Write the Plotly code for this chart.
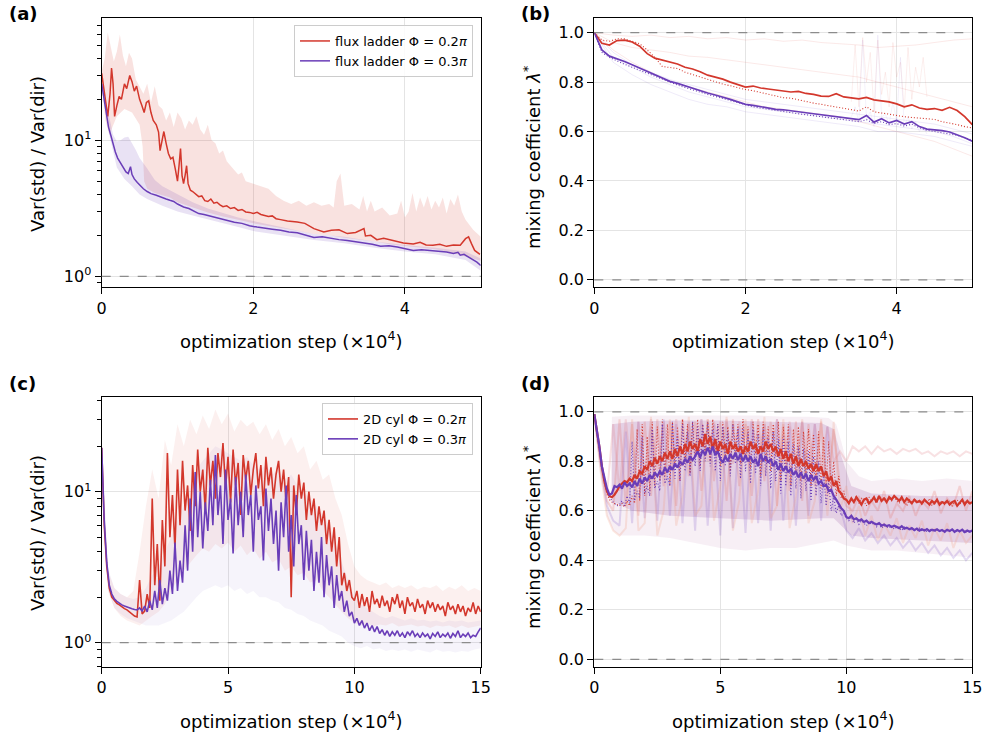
import numpy as np
import plotly.graph_objects as go

RED = '#d3372c'
PURPLE = '#6a3db8'
RED_BAND = 'rgba(214,60,50,0.15)'
PUR_BAND = 'rgba(107,63,184,0.15)'
FONT = 'DejaVu Sans'

# ---------------- panel (a): flux ladder, Var(std)/Var(dir) ----------------
a_red_x = [0.00,0.04,0.08,0.11,0.13,0.15,0.17,0.20,0.23,0.26,0.30,0.33,0.37,0.40,0.43,0.46,0.50,0.53,0.56,0.59,
           0.62,0.65,0.68,0.72,0.75,0.77,0.80,0.82,0.85,0.88,0.91,0.94,0.97,1.00,1.02,1.04,1.06,1.08,1.10,1.12,
           1.14,1.17,1.20,1.24,1.28,1.32,1.36,1.40,1.44,1.48,1.52,1.56,1.60,1.65,1.70,1.75,1.80,1.85,1.90,1.95,
           2.00,2.05,2.10,2.15,2.20,2.25,2.30,2.36,2.45,2.58,2.68,2.80,2.93,3.03,3.13,3.24,3.35,3.46,3.48,3.55,
           3.63,3.72,3.80,3.90,3.98,4.11,4.20,4.28,4.37,4.46,4.55,4.64,4.73,4.80,4.84,4.88,4.92,4.99]
a_red_y = [31,22,15,22,34,26,15,18,21,20,26,24,30,27,23,25,20,18,16,19,
           19.5,16,14,13,11.5,8.4,10,11.6,9.5,8.0,7.3,7.5,6.2,5.0,6.5,8.7,5.5,4.8,5.5,6.5,
           4.8,4.3,4.2,4.0,3.85,3.9,3.6,3.55,3.7,3.45,3.5,3.35,3.25,3.3,3.15,3.2,3.05,3.1,2.97,2.95,
           2.9,2.95,2.85,2.8,2.75,2.78,2.65,2.61,2.55,2.51,2.45,2.24,2.12,2.18,2.2,2.06,2.1,2.24,1.98,2.0,
           1.86,1.9,1.85,1.8,1.76,1.73,1.78,1.7,1.69,1.72,1.66,1.7,1.69,1.89,1.95,1.73,1.55,1.45]
a_pur_x = [0.00,0.03,0.06,0.09,0.12,0.15,0.18,0.21,0.24,0.28,0.32,0.35,0.38,0.40,0.43,0.47,0.51,0.55,0.60,
           0.65,0.72,0.78,0.85,0.90,0.95,1.00,1.08,1.15,1.22,1.28,1.35,1.45,1.55,1.65,1.75,1.85,1.95,2.05,2.15,
           2.25,2.36,2.47,2.58,2.69,2.80,2.91,3.02,3.13,3.24,3.35,3.46,3.57,3.68,3.79,3.90,4.00,4.11,4.22,4.33,
           4.44,4.55,4.64,4.70,4.73,4.78,4.86,4.95,5.00]
a_pur_y = [26,20,15,12.5,10.9,9.2,8.2,7.4,6.9,6.3,5.85,5.7,6.4,5.6,5.2,4.9,4.6,4.4,4.2,
           4.05,3.94,3.85,3.7,3.62,3.55,3.4,3.23,3.15,3.0,2.89,2.85,2.75,2.65,2.58,2.5,2.45,2.35,2.3,2.25,
           2.22,2.18,2.12,2.09,2.02,1.93,1.95,1.9,1.86,1.83,1.8,1.76,1.72,1.66,1.68,1.64,1.6,1.55,1.57,1.54,
           1.53,1.51,1.47,1.5,1.43,1.45,1.37,1.27,1.2]
a_red_up_x = [0.00,0.04,0.08,0.12,0.16,0.20,0.24,0.28,0.32,0.36,0.40,0.45,0.50,0.55,0.60,0.65,0.70,0.75,0.80,0.85,
              0.90,0.95,1.00,1.05,1.10,1.15,1.20,1.25,1.30,1.35,1.40,1.45,1.50,1.55,1.60,1.65,1.70,1.75,1.80,1.85,
              1.90,2.00,2.10,2.20,2.30,2.40,2.50,2.60,2.70,2.80,2.90,3.00,3.06,3.10,3.15,3.20,3.30,3.40,3.45,3.50,
              3.55,3.60,3.70,3.80,3.90,3.95,4.00,4.05,4.10,4.15,4.20,4.25,4.30,4.35,4.40,4.45,4.50,4.55,4.60,4.65,
              4.70,4.75,4.80,4.90,5.00]
a_red_up_y = [32,40,62,48,38,45,60,42,35,44,40,28,25,22,26,19,25,18,17,14,
              16,12.5,16,14.5,12,14,13,15,12,11,13,10,9.5,8,8.4,7,6.5,6,5.6,5.8,
              5.0,4.8,4.6,4.4,3.9,3.6,3.4,3.6,3.3,3.5,3.3,3.4,3.2,5.0,5.7,3.3,3.4,3.1,3.9,3.0,
              3.6,3.0,3.2,2.8,2.9,3.6,2.7,3.0,4.1,3.0,3.8,3.2,3.9,3.1,3.6,3.2,3.8,2.9,3.7,3.3,
              4.0,3.0,2.6,2.2,1.95]
a_red_lo_x = [0.00,0.05,0.10,0.15,0.20,0.30,0.40,0.50,0.54,0.56,0.60,0.70,0.80,0.90,1.00,1.20,1.40,1.60,1.80,2.00,
              2.20,2.40,2.60,2.80,3.00,3.20,3.40,3.60,3.80,4.00,4.20,4.40,4.60,4.80,5.00]
a_red_lo_y = [26,14,11,13,15,17,16,13,9,5.0,4.4,4.1,3.95,3.8,3.5,3.2,2.95,2.75,2.6,2.45,
              2.35,2.25,2.15,2.05,2.0,1.92,1.85,1.8,1.72,1.68,1.62,1.58,1.5,1.4,1.3]
a_pur_up_x = [0.00,0.05,0.10,0.15,0.20,0.25,0.30,0.35,0.40,0.45,0.50,0.55,0.60,0.70,0.80,0.90,1.00,1.20,1.40,1.60,
              1.80,2.00,2.40,2.80,3.20,3.60,4.00,4.40,4.80,5.00]
a_pur_up_y = [27,20,14,11,9.8,10.0,10.5,10.6,9.5,8.5,7.4,6.8,6.2,5.1,4.6,4.3,4.0,3.5,3.15,2.9,
              2.7,2.55,2.3,2.05,1.95,1.8,1.7,1.62,1.52,1.35]
a_pur_lo_x = [0.00,0.05,0.10,0.15,0.20,0.30,0.40,0.50,0.60,0.80,1.00,1.20,1.40,1.60,1.80,2.00,2.40,2.80,3.20,3.60,
              4.00,4.40,4.80,5.00]
a_pur_lo_y = [24,16,11,8.3,6.3,5.2,4.6,4.0,3.7,3.3,3.0,2.8,2.6,2.45,2.3,2.15,2.0,1.85,1.75,1.62,
              1.52,1.45,1.32,1.1]

# ---------------- panel (b): flux ladder, mixing coefficient ----------------
b_red = [1.0,0.957,0.95,0.968,0.97,0.962,0.945,0.915,0.897,0.89,
         0.883,0.873,0.86,0.853,0.842,0.828,0.82,0.812,0.80,0.79,
         0.78,0.784,0.776,0.772,0.768,0.762,0.76,0.762,0.754,0.75,
         0.743,0.742,0.753,0.74,0.735,0.732,0.738,0.728,0.724,0.72,
         0.712,0.70,0.708,0.695,0.69,0.693,0.686,0.698,0.685,0.66,0.628]
b_pur = [1.0,0.93,0.905,0.895,0.883,0.87,0.857,0.843,0.83,0.815,
         0.803,0.795,0.785,0.773,0.765,0.756,0.748,0.74,0.73,0.72,
         0.71,0.706,0.70,0.697,0.69,0.688,0.685,0.68,0.676,0.672,
         0.668,0.665,0.66,0.655,0.652,0.648,0.665,0.638,0.652,0.635,
         0.645,0.63,0.64,0.62,0.61,0.608,0.604,0.598,0.588,0.575,0.561]
b_red_dot = [1.0,0.97,0.965,0.975,0.975,0.965,0.955,0.93,0.90,0.863,
             0.86,0.855,0.84,0.83,0.82,0.81,0.80,0.792,0.785,0.777,
             0.77,0.765,0.758,0.75,0.745,0.737,0.735,0.728,0.72,0.715,
             0.71,0.705,0.70,0.695,0.688,0.683,0.70,0.68,0.675,0.67,
             0.663,0.66,0.657,0.655,0.65,0.649,0.64,0.635,0.628,0.62,0.615]
b_pur_dot = [1.0,0.92,0.90,0.885,0.872,0.86,0.848,0.835,0.822,0.81,
             0.798,0.788,0.778,0.768,0.758,0.75,0.742,0.733,0.724,0.715,
             0.706,0.70,0.695,0.69,0.685,0.68,0.677,0.672,0.668,0.664,
             0.66,0.656,0.652,0.648,0.645,0.64,0.648,0.632,0.64,0.628,
             0.632,0.622,0.63,0.615,0.605,0.60,0.598,0.592,0.585,0.575,0.565]
b_runs_pink = [
    [1.0,0.99,0.985,0.99,0.98,0.985,0.975,0.98,0.97,0.975,0.965,0.97,0.96,0.955,0.95,0.94,0.945,0.95,0.96,0.97,0.975],
    [1.0,0.96,0.94,0.93,0.92,0.905,0.90,0.89,0.88,0.87,0.86,0.85,0.84,0.83,0.82,0.80,0.78,0.76,0.74,0.72,0.70],
    [1.0,0.93,0.88,0.84,0.80,0.78,0.76,0.74,0.72,0.70,0.69,0.68,0.67,0.66,0.64,0.62,0.60,0.58,0.56,0.53,0.50],
]
b_runs_purple = [
    [1.0,0.90,0.86,0.82,0.79,0.76,0.74,0.72,0.70,0.69,0.68,0.67,0.66,0.65,0.64,0.63,0.62,0.61,0.60,0.58,0.55],
    [1.0,0.88,0.83,0.79,0.76,0.73,0.71,0.70,0.68,0.67,0.66,0.65,0.64,0.63,0.62,0.60,0.60,0.59,0.58,0.56,0.54],
    [1.0,0.92,0.87,0.84,0.81,0.79,0.77,0.75,0.73,0.72,0.71,0.70,0.69,0.68,0.67,0.66,0.65,0.64,0.63,0.61,0.59],
]
b_spiky_pink = [0.72,0.95,0.70,0.98,0.80,0.92,0.68,0.97,0.75,0.84,0.70,0.96,0.82,0.88,0.69,0.94,0.73,0.86,0.78,0.90,0.74]
b_spiky_purple = [0.66,0.70,0.64,0.97,0.65,0.68,0.62,0.99,0.66,0.67,0.63,0.72,0.64,0.90,0.62,0.66,0.61,0.64,0.60,0.62,0.59]

# ---------------- panel (c): 2D cylinder, Var(std)/Var(dir) ----------------
c_red = [19.5,6.0,3.2,2.3,2.0,1.9,1.82,1.78,1.72,1.68,
         1.65,1.6,1.56,1.5,1.48,2.6,1.55,1.62,2.1,1.7,
         9.0,2.4,4.5,1.9,6.5,3.2,18.0,5.0,9.5,4.2,
         14.0,6.0,16.0,7.5,11.0,5.5,15.0,8.0,19.0,10.0,
         14.0,7.5,19.5,11.0,16.0,9.0,18.0,12.5,21.0,10.5,
         17.0,8.5,19.0,11.0,15.5,7.0,17.5,12.0,16.0,9.5,
         14.0,18.0,10.5,15.0,8.0,17.0,11.0,14.5,9.0,13.0,
         16.0,10.0,14.0,8.5,12.5,2.0,11.0,7.0,13.0,9.0,
         11.5,6.5,10.0,7.0,9.0,5.5,8.0,6.0,7.5,4.5,
         6.5,4.0,5.8,3.2,5.0,2.4,2.9,2.2,2.6,2.0,
         1.9,2.2,1.7,2.1,1.75,2.0,1.6,2.2,1.8,1.95,
         1.7,2.05,1.75,1.9,1.6,2.0,1.8,2.1,1.7,1.9,
         1.55,2.0,1.75,1.85,1.6,1.95,1.7,1.8,1.55,1.9,
         1.7,1.85,1.6,1.8,1.65,1.75,1.5,1.85,1.65,1.75,
         1.55,1.8,1.6,1.75,1.5,1.7,1.6,1.85,1.55,1.75,
         1.6]
c_pur = [19.5,6.5,3.4,2.4,2.1,1.95,1.88,1.82,1.78,1.75,
         1.72,1.7,1.68,1.66,1.65,1.7,1.62,1.75,1.6,1.9,
         1.65,2.2,1.7,2.6,1.8,2.3,1.9,3.0,2.1,4.6,
         2.2,3.5,2.5,6.0,3.0,9.0,4.0,13.5,5.0,10.0,
         4.2,8.5,5.5,12.0,6.0,17.5,7.0,11.0,4.5,14.0,
         6.5,9.0,3.9,12.5,6.0,10.0,5.0,13.0,7.0,9.5,
         4.0,11.0,6.5,8.0,3.5,10.5,5.5,9.0,4.5,7.5,
         3.0,8.5,5.0,11.0,4.0,7.0,3.2,9.5,4.5,6.0,
         2.6,5.5,3.0,4.8,2.2,4.0,2.5,5.0,2.0,3.8,
         2.4,3.2,1.7,2.8,1.9,2.2,1.6,1.9,1.5,1.6,
         1.35,1.45,1.3,1.4,1.25,1.35,1.2,1.3,1.18,1.28,
         1.15,1.22,1.12,1.2,1.1,1.18,1.12,1.2,1.1,1.16,
         1.08,1.18,1.12,1.2,1.1,1.15,1.08,1.16,1.1,1.14,
         1.06,1.15,1.1,1.18,1.08,1.14,1.1,1.16,1.07,1.15,
         1.1,1.2,1.08,1.14,1.1,1.16,1.08,1.12,1.1,1.18,
         1.25]
c_red_up = [20,3.0,2.3,2.1,2.0,2.2,4.0,8.0,14,9,
            22,15,28,20,30,24,32,26,35,28,
            33,25,30,27,29,24,28,22,26,20,
            23,18,20,14,16,12,13,9,7,4.5,
            3.2,2.8,2.6,2.5,2.4,2.5,2.3,2.4,2.3,2.4,
            2.25,2.35,2.3,2.4,2.2,2.35,2.25,2.4,2.2,2.3,
            2.2]
c_red_lo = [18,2.2,1.7,1.5,1.4,1.35,1.3,1.4,1.5,1.6,
            1.8,2.2,2.6,3.0,3.4,3.8,4.2,4.0,4.5,4.2,
            4.6,4.0,4.4,3.8,4.2,3.6,4.0,3.4,3.6,3.0,
            3.2,2.8,2.9,2.5,2.6,2.2,2.0,1.8,1.6,1.45,
            1.35,1.3,1.35,1.28,1.32,1.3,1.35,1.28,1.3,1.32,
            1.28,1.3,1.25,1.3,1.28,1.3,1.25,1.3,1.25,1.28,
            1.3]
c_pur_up = [20,3.1,2.3,2.1,2.0,1.95,2.0,2.3,2.8,3.2,
            4.0,5.0,6.5,8.0,11,14,16,18,20,19,
            18,17,16,17,15,14,15,13,14,12,
            13,11,10,9,8,7,6,4.5,3.5,2.6,
            2.0,1.8,1.7,1.6,1.5,1.45,1.5,1.45,1.4,1.45,
            1.4,1.42,1.38,1.4,1.36,1.4,1.38,1.4,1.36,1.38,
            1.4]
c_pur_lo = [18,2.2,1.7,1.55,1.45,1.4,1.35,1.3,1.3,1.3,
            1.35,1.4,1.5,1.6,1.8,2.0,2.2,2.3,2.4,2.3,
            2.4,2.2,2.3,2.1,2.2,2.0,2.0,1.9,1.85,1.7,
            1.65,1.55,1.5,1.4,1.35,1.3,1.2,1.15,1.1,1.0,
            0.95,0.92,0.95,0.9,0.92,0.88,0.9,0.88,0.9,0.87,
            0.9,0.88,0.86,0.9,0.87,0.88,0.86,0.88,0.87,0.9,
            0.92]

# ---------------- panel (d): 2D cylinder, mixing coefficient ----------------
d_red = [0.99,0.93,0.86,0.78,0.72,0.68,0.66,0.655,0.665,0.68,
         0.70,0.71,0.72,0.715,0.73,0.72,0.745,0.73,0.76,0.75,
         0.78,0.765,0.80,0.78,0.815,0.79,0.82,0.80,0.835,0.81,
         0.84,0.81,0.85,0.82,0.86,0.83,0.87,0.84,0.88,0.85,
         0.87,0.84,0.89,0.86,0.91,0.87,0.90,0.85,0.89,0.84,
         0.88,0.85,0.87,0.83,0.88,0.85,0.87,0.84,0.86,0.83,
         0.86,0.84,0.88,0.85,0.87,0.83,0.86,0.84,0.88,0.85,
         0.87,0.84,0.86,0.82,0.85,0.81,0.84,0.80,0.83,0.79,
         0.82,0.78,0.81,0.78,0.80,0.77,0.79,0.76,0.79,0.76,
         0.78,0.74,0.76,0.72,0.74,0.70,0.72,0.68,0.67,0.65,
         0.645,0.63,0.65,0.635,0.655,0.64,0.625,0.645,0.65,0.63,
         0.64,0.655,0.635,0.66,0.64,0.65,0.635,0.655,0.645,0.66,
         0.65,0.64,0.655,0.635,0.65,0.64,0.63,0.645,0.635,0.64,
         0.63,0.645,0.635,0.625,0.64,0.63,0.645,0.625,0.635,0.63,
         0.64,0.625,0.635,0.64,0.62,0.635,0.645,0.625,0.64,0.63,
         0.635]
d_pur = [0.99,0.93,0.86,0.78,0.73,0.69,0.665,0.67,0.70,0.695,
         0.705,0.69,0.715,0.70,0.71,0.695,0.72,0.70,0.73,0.71,
         0.735,0.72,0.745,0.73,0.755,0.74,0.76,0.745,0.775,0.755,
         0.78,0.765,0.79,0.775,0.80,0.785,0.81,0.795,0.82,0.805,
         0.82,0.84,0.815,0.845,0.825,0.855,0.83,0.86,0.825,0.84,
         0.81,0.795,0.82,0.80,0.83,0.81,0.835,0.805,0.83,0.80,
         0.825,0.80,0.82,0.795,0.81,0.78,0.83,0.80,0.82,0.795,
         0.81,0.78,0.80,0.765,0.79,0.76,0.78,0.755,0.77,0.745,
         0.76,0.735,0.755,0.73,0.75,0.72,0.745,0.725,0.74,0.71,
         0.72,0.70,0.705,0.68,0.685,0.66,0.645,0.625,0.61,0.60,
         0.575,0.57,0.58,0.565,0.57,0.56,0.565,0.555,0.56,0.55,
         0.556,0.55,0.545,0.55,0.54,0.545,0.538,0.542,0.535,0.54,
         0.535,0.53,0.538,0.528,0.532,0.525,0.53,0.522,0.528,0.52,
         0.525,0.52,0.526,0.518,0.524,0.52,0.525,0.518,0.522,0.516,
         0.523,0.518,0.525,0.515,0.522,0.517,0.524,0.514,0.52,0.515,
         0.52]
d_red_dot = [0.99,0.92,0.85,0.77,0.71,0.67,0.645,0.635,0.63,0.625,
             0.62,0.63,0.615,0.64,0.62,0.66,0.63,0.93,0.64,0.95,
             0.66,0.90,0.68,0.96,0.70,0.94,0.72,0.97,0.74,0.95,
             0.70,0.96,0.78,0.94,0.72,0.97,0.80,0.95,0.75,0.96,
             0.82,0.97,0.78,0.95,0.84,0.96,0.80,0.97,0.83,0.95,
             0.78,0.96,0.82,0.94,0.76,0.96,0.84,0.95,0.79,0.97,
             0.81,0.94,0.77,0.96,0.83,0.95,0.74,0.96,0.80,0.94,
             0.76,0.95,0.82,0.96,0.72,0.94,0.78,0.95,0.70,0.93,
             0.76,0.94,0.72,0.92,0.75,0.93,0.70,0.91,0.73,0.92,
             0.69,0.90,0.71,0.88,0.68,0.80,0.66,0.74,0.65,0.68,
             0.64,0.63,0.65,0.64,0.66,0.63,0.65,0.64,0.62,0.655,
             0.64,0.65,0.63,0.66,0.64,0.655,0.635,0.65,0.64,0.66,
             0.64,0.63,0.65,0.64,0.62,0.645,0.635,0.65,0.63,0.64,
             0.625,0.64,0.63,0.65,0.62,0.635,0.645,0.63,0.64,0.625,
             0.635,0.64,0.62,0.635,0.645,0.625,0.64,0.63,0.645,0.625,
             0.635]
d_pur_dot = [0.99,0.92,0.85,0.77,0.72,0.68,0.66,0.64,0.63,0.62,
             0.625,0.64,0.62,0.66,0.63,0.88,0.64,0.68,0.65,0.90,
             0.67,0.70,0.66,0.93,0.69,0.72,0.68,0.95,0.71,0.74,
             0.70,0.96,0.73,0.90,0.72,0.95,0.76,0.92,0.74,0.96,
             0.78,0.94,0.76,0.95,0.80,0.96,0.78,0.93,0.76,0.95,
             0.72,0.94,0.78,0.92,0.74,0.95,0.79,0.93,0.73,0.94,
             0.76,0.92,0.71,0.93,0.75,0.91,0.70,0.93,0.74,0.90,
             0.69,0.92,0.72,0.89,0.67,0.90,0.70,0.88,0.66,0.87,
             0.69,0.86,0.65,0.85,0.68,0.84,0.64,0.82,0.66,0.80,
             0.63,0.76,0.62,0.72,0.60,0.66,0.59,0.62,0.58,0.59,
             0.57,0.56,0.575,0.55,0.565,0.545,0.56,0.55,0.54,0.555,
             0.545,0.55,0.535,0.545,0.53,0.54,0.535,0.53,0.54,0.525,
             0.535,0.53,0.52,0.535,0.525,0.53,0.52,0.528,0.518,0.53,
             0.52,0.525,0.515,0.528,0.52,0.515,0.525,0.518,0.522,0.512,
             0.52,0.518,0.525,0.512,0.52,0.515,0.522,0.51,0.518,0.514,
             0.52]
d_runs = {
    'rgba(232,110,100,0.24)': [0.99,0.80,0.64,0.60,0.97,0.62,0.95,0.58,0.96,0.66,0.97,0.70,0.96,0.62,0.97,0.74,
                               0.96,0.68,0.97,0.72,0.96,0.64,0.97,0.70,0.95,0.66,0.97,0.72,0.96,0.62,0.95,0.68,
                               0.96,0.64,0.95,0.70,0.96,0.66,0.93,0.70,0.62,0.60,0.66,0.58,0.64,0.60,0.68,0.57,
                               0.63,0.60,0.66,0.58,0.64,0.61,0.68,0.59,0.65,0.62,0.70,0.60,0.68],
    'rgba(130,90,200,0.22)': [0.99,0.78,0.62,0.56,0.54,0.92,0.55,0.96,0.57,0.94,0.56,0.97,0.58,0.95,0.55,0.96,
                              0.52,0.97,0.54,0.95,0.50,0.96,0.53,0.94,0.51,0.96,0.55,0.95,0.52,0.97,0.56,0.94,
                              0.54,0.96,0.58,0.95,0.56,0.94,0.60,0.62,0.52,0.49,0.53,0.48,0.51,0.47,0.50,0.46,
                              0.49,0.45,0.48,0.44,0.47,0.43,0.46,0.42,0.45,0.41,0.44,0.40,0.43],
    'rgba(240,150,120,0.22)': [0.99,0.76,0.58,0.52,0.50,0.53,0.97,0.52,0.55,0.98,0.50,0.60,0.97,0.54,0.66,0.98,
                               0.58,0.62,0.97,0.56,0.70,0.98,0.52,0.64,0.97,0.55,0.68,0.98,0.57,0.62,0.97,0.53,
                               0.66,0.97,0.55,0.64,0.97,0.58,0.96,0.60,0.70,0.55,0.62,0.50,0.58,0.48,0.55,0.50,
                               0.57,0.47,0.54,0.49,0.56,0.46,0.53,0.48,0.55,0.45,0.52,0.47,0.50],
    'rgba(225,130,140,0.24)': [0.99,0.80,0.66,0.95,0.68,0.97,0.70,0.96,0.74,0.97,0.76,0.96,0.80,0.97,0.78,0.95,
                               0.82,0.97,0.80,0.96,0.84,0.97,0.79,0.96,0.83,0.97,0.80,0.95,0.82,0.97,0.78,0.96,
                               0.80,0.96,0.77,0.95,0.79,0.94,0.80,0.84,0.80,0.86,0.84,0.86,0.83,0.86,0.84,0.85,
                               0.83,0.85,0.84,0.85,0.83,0.84,0.82,0.84,0.83,0.84,0.82,0.84,0.83],
}
d_env_up_x = [0,0.25,0.5,0.65,0.70,1.5,2.5,3.5,4.5,5.5,6.5,7.5,8.5,9.3,9.6,9.8,10.0,10.5,11,12,13,14,15]
d_env_up_y = [1.0,0.82,0.70,0.68,0.98,0.985,0.985,0.985,0.985,0.985,0.985,0.98,0.98,0.975,0.95,0.88,0.80,0.74,0.72,0.73,0.72,0.73,0.72]
d_env_lo_x = [0,0.25,0.5,0.75,1.0,1.5,2,3,4,5,6,7,8,9,9.5,10,11,12,13,14,15]
d_env_lo_y = [1.0,0.76,0.58,0.52,0.50,0.50,0.50,0.49,0.47,0.45,0.44,0.45,0.45,0.47,0.48,0.46,0.44,0.44,0.43,0.42,0.41]
d_core_x = [0.70,1.5,3,5,7,9,9.5,9.8,10.2,11,13,15]
d_core_up = [0.95,0.96,0.965,0.965,0.96,0.955,0.93,0.82,0.70,0.67,0.66,0.66]
d_core_lo = [0.64,0.60,0.58,0.57,0.56,0.57,0.57,0.54,0.50,0.49,0.48,0.47]

ref_levels_var = [1.0]
ref_levels_mix = [0.0, 1.0]


def grid(start, stop, vals):
    return list(np.linspace(start, stop, len(vals)))


fig = go.Figure()


def band(xu, yu, xl, yl, color, xa, ya):
    fig.add_trace(go.Scatter(x=list(xu) + list(xl)[::-1], y=list(yu) + list(yl)[::-1],
                             fill='toself', fillcolor=color, line=dict(width=0), mode='lines',
                             hoverinfo='skip', showlegend=False, xaxis=xa, yaxis=ya))


def line(x, y, color, width, xa, ya, dash='solid', name=None, legend=None):
    fig.add_trace(go.Scatter(x=x, y=y, mode='lines', line=dict(color=color, width=width, dash=dash),
                             name=name, showlegend=name is not None, legend=legend,
                             xaxis=xa, yaxis=ya))


# (a)
band(a_red_up_x, a_red_up_y, a_red_lo_x, a_red_lo_y, RED_BAND, 'x', 'y')
band(a_pur_up_x, a_pur_up_y, a_pur_lo_x, a_pur_lo_y, PUR_BAND, 'x', 'y')
line(a_red_x, a_red_y, RED, 1.5, 'x', 'y', name='flux ladder Φ = 0.2<i>π</i>', legend='legend')
line(a_pur_x, a_pur_y, PURPLE, 1.5, 'x', 'y', name='flux ladder Φ = 0.3<i>π</i>', legend='legend')

# (b)
for r in b_runs_pink:
    line(grid(0, 5, r), r, 'rgba(225,110,100,0.15)', 1, 'x2', 'y2')
for r in b_runs_purple:
    line(grid(0, 5, r), r, 'rgba(130,100,210,0.13)', 1, 'x2', 'y2')
line(grid(3.4, 4.4, b_spiky_pink), b_spiky_pink, 'rgba(225,110,100,0.11)', 1, 'x2', 'y2')
line(grid(3.4, 4.4, b_spiky_purple), b_spiky_purple, 'rgba(130,100,210,0.09)', 1, 'x2', 'y2')
line(grid(0, 5, b_red_dot), b_red_dot, RED, 1.1, 'x2', 'y2', dash='1px,2px')
line(grid(0, 5, b_pur_dot), b_pur_dot, PURPLE, 1.1, 'x2', 'y2', dash='1px,2px')
line(grid(0, 5, b_red), b_red, RED, 1.7, 'x2', 'y2')
line(grid(0, 5, b_pur), b_pur, PURPLE, 1.7, 'x2', 'y2')

# (c)
band(grid(0, 15, c_red_up), c_red_up, grid(0, 15, c_red_lo), c_red_lo, 'rgba(214,60,50,0.08)', 'x3', 'y3')
band(grid(0, 15, c_pur_up), c_pur_up, grid(0, 15, c_pur_lo), c_pur_lo, 'rgba(107,63,184,0.06)', 'x3', 'y3')
line(grid(0, 15, c_red), c_red, RED, 1.6, 'x3', 'y3', name='2D cyl Φ = 0.2<i>π</i>', legend='legend2')
line(grid(0, 15, c_pur), c_pur, PURPLE, 1.6, 'x3', 'y3', name='2D cyl Φ = 0.3<i>π</i>', legend='legend2')

# (d)
band(d_env_up_x, d_env_up_y, d_env_lo_x, d_env_lo_y, 'rgba(200,140,185,0.14)', 'x4', 'y4')
band(d_core_x, d_core_up, d_core_x, d_core_lo, 'rgba(165,100,170,0.22)', 'x4', 'y4')
for col, r in d_runs.items():
    line(grid(0, 15, r), r, col, 2, 'x4', 'y4')
line(grid(0, 15, d_red_dot), d_red_dot, RED, 1.1, 'x4', 'y4', dash='1px,2px')
line(grid(0, 15, d_pur_dot), d_pur_dot, PURPLE, 1.1, 'x4', 'y4', dash='1px,2px')
line(grid(0, 15, d_red), d_red, RED, 2.2, 'x4', 'y4')
line(grid(0, 15, d_pur), d_pur, PURPLE, 2.2, 'x4', 'y4')

# reference dashed lines
shapes = []
for xa, ya, levels in [('x', 'y', ref_levels_var), ('x2', 'y2', ref_levels_mix),
                       ('x3', 'y3', ref_levels_var), ('x4', 'y4', ref_levels_mix)]:
    for lv in levels:
        shapes.append(dict(type='line', xref=xa + ' domain', yref=ya, x0=0, x1=1, y0=lv, y1=lv,
                           line=dict(color='#8c8c8c', width=1.3, dash='dash'), layer='above'))

W, H = 985, 733
def px(v): return v / W
def py(v): return 1 - v / H

common = dict(showline=True, linecolor='black', linewidth=1.3, mirror=True, ticks='outside', ticklen=6,
              tickwidth=1.2, tickcolor='black', showgrid=True, gridcolor='#e4e4e4', gridwidth=1,
              zeroline=False, tickfont=dict(family=FONT, size=16, color='black'), automargin=False)

xa_dom = [px(101.7), px(480.7)]
xb_dom = [px(594.3), px(972.3)]
top_dom = [py(287.3), py(18.3)]
bot_dom = [py(666.7), py(396.7)]

minor_a = [0.9, 2, 3, 4, 5, 6, 7, 8, 9, 20, 30, 40, 50, 60, 70]
minor_c = [0.7, 0.8, 0.9, 2, 3, 4, 5, 6, 7, 8, 9, 20, 30, 40]
minor_style = dict(ticks='outside', ticklen=3.5, tickwidth=1, tickcolor='black', showgrid=False, tickmode='array')

legend_style = dict(xanchor='right', yanchor='top', bgcolor='rgba(255,255,255,0.85)',
                    bordercolor='#cccccc', borderwidth=1, font=dict(family=FONT, size=13, color='black'),
                    itemwidth=30, tracegroupgap=0)

fig.update_layout(
    width=W, height=H, margin=dict(l=0, r=0, t=0, b=0),
    paper_bgcolor='white', plot_bgcolor='white',
    font=dict(family=FONT, color='black', size=16),
    xaxis=dict(common, domain=xa_dom, range=[0, 5.0], tickvals=[0, 2, 4], anchor='y'),
    yaxis=dict(common, domain=top_dom, type='log', range=[-0.081, 1.897], tickvals=[1, 10],
               ticktext=['10<sup>0</sup>', '10<sup>1</sup>'], anchor='x', minor=dict(minor_style, tickvals=minor_a)),
    xaxis2=dict(common, domain=xb_dom, range=[0, 5.0], tickvals=[0, 2, 4], anchor='y2'),
    yaxis2=dict(common, domain=top_dom, range=[-0.03, 1.058], tickvals=[0, 0.2, 0.4, 0.6, 0.8, 1.0],
                tickformat='.1f', anchor='x2'),
    xaxis3=dict(common, domain=xa_dom, range=[0, 15], tickvals=[0, 5, 10, 15], anchor='y3'),
    yaxis3=dict(common, domain=bot_dom, type='log', range=[-0.159, 1.629], tickvals=[1, 10],
                ticktext=['10<sup>0</sup>', '10<sup>1</sup>'], anchor='x3', minor=dict(minor_style, tickvals=minor_c)),
    xaxis4=dict(common, domain=xb_dom, range=[0, 15], tickvals=[0, 5, 10, 15], anchor='y4'),
    yaxis4=dict(common, domain=bot_dom, range=[-0.03, 1.061], tickvals=[0, 0.2, 0.4, 0.6, 0.8, 1.0],
                tickformat='.1f', anchor='x4'),
    shapes=shapes,
    legend=dict(legend_style, x=px(473), y=py(25)),
    legend2=dict(legend_style, x=px(473), y=py(403)),
)

ann = []
title_font = dict(family=FONT, size=18, color='black')
xtitle = 'optimization step (×10<sup>4</sup>)'
for cx, cy in [(291.2, 340), (783.3, 340), (291.2, 720), (783.3, 720)]:
    ann.append(dict(text=xtitle, x=px(cx), y=py(cy), xref='paper', yref='paper', showarrow=False,
                    xanchor='center', yanchor='middle', font=title_font))
for cx, cy, t in [(37, 154, 'Var(std) / Var(dir)'), (532, 158, 'mixing coefficient <i>λ</i><sup>*</sup>'),
                  (37, 533, 'Var(std) / Var(dir)'), (532, 538, 'mixing coefficient <i>λ</i><sup>*</sup>')]:
    ann.append(dict(text=t, x=px(cx), y=py(cy), xref='paper', yref='paper', showarrow=False, textangle=-90,
                    xanchor='center', yanchor='middle', font=title_font))
for cx, cy, t in [(7, 13, '(a)'), (519, 13, '(b)'), (7, 383, '(c)'), (519, 383, '(d)')]:
    ann.append(dict(text='<b>' + t + '</b>', x=px(cx), y=py(cy), xref='paper', yref='paper', showarrow=False,
                    xanchor='left', yanchor='middle', font=dict(family=FONT, size=18, color='black')))
fig.update_layout(annotations=ann)

fig.write_html('out.html')
